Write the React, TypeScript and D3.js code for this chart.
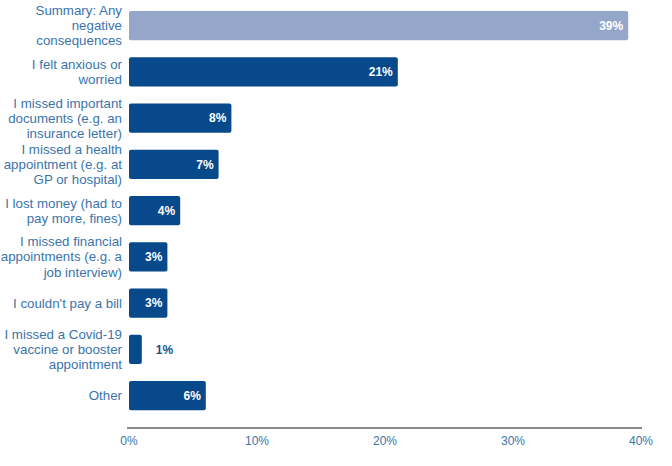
import React, { useEffect, useRef } from 'react'
import * as d3 from 'd3'

// categories (line breaks as in the original)
const categories = [
  'Summary: Any\nnegative\nconsequences',
  'I felt anxious or\nworried',
  'I missed important\ndocuments (e.g. an\ninsurance letter)',
  'I missed a health\nappointment (e.g. at\nGP or hospital)',
  'I lost money (had to\npay more, fines)',
  'I missed financial\nappointments (e.g. a\njob interview)',
  "I couldn't pay a bill",
  'I missed a Covid-19\nvaccine or booster\nappointment',
  'Other',
]
const values = [39, 21, 8, 7, 4, 3, 3, 1, 6]
const xTicks = [0, 10, 20, 30, 40]

const W = 672
const H = 466

const App = () => {
  const svgRef = useRef<SVGSVGElement>(null)

  useEffect(() => {
    const svg = d3.select(svgRef.current)
    svg.selectAll('*').remove()

    const x = d3.scaleLinear().domain([0, 40]).range([129, 641])
    const y = d3
      .scaleBand<number>()
      .domain(categories.map((c, i) => i))
      .range([1.75, 419.4])
      .paddingInner(0.37)
      .paddingOuter(0.2)

    const font = 'Arial, "Liberation Sans", sans-serif'

    // bars
    svg
      .selectAll('.bar')
      .data(values)
      .join('rect')
      .attr('class', 'bar')
      .attr('x', x(0))
      .attr('y', (v, i) => y(i)!)
      .attr('width', v => x(v) - x(0))
      .attr('height', y.bandwidth())
      .attr('rx', 2)
      .attr('fill', (v, i) => (i === 0 ? '#94a7cb' : '#07498a'))

    // value labels
    svg
      .selectAll('.val')
      .data(values)
      .join('text')
      .attr('class', 'val')
      .attr('x', v => (v < 2 ? x(v) + 14 : x(v) - 5))
      .attr('y', (v, i) => y(i)! + y.bandwidth() / 2)
      .attr('dy', '0.35em')
      .attr('text-anchor', v => (v < 2 ? 'start' : 'end'))
      .attr('font-family', font)
      .attr('font-size', 12)
      .attr('font-weight', 'bold')
      .attr('fill', v => (v < 2 ? '#1d4f8c' : '#ffffff'))
      .text(v => v + '%')

    // category labels
    const lineH = 15.2
    const labels = svg
      .selectAll('.cat')
      .data(categories)
      .join('text')
      .attr('class', 'cat')
      .attr('text-anchor', 'end')
      .attr('font-family', font)
      .attr('font-size', 13.3)
      .attr('fill', '#3a74ab')
    labels.each(function (c, i) {
      const lines = c.split('\n')
      const cy = y(i)! + y.bandwidth() / 2
      const top = cy - ((lines.length - 1) * lineH) / 2
      d3.select(this)
        .selectAll('tspan')
        .data(lines)
        .join('tspan')
        .attr('x', 122)
        .attr('y', (l, k) => top + k * lineH)
        .attr('dy', '0.35em')
        .text(l => l)
    })

    // x axis
    const axis = svg.append('g').attr('transform', 'translate(0,428)')
    axis
      .append('line')
      .attr('x1', 127)
      .attr('x2', 642)
      .attr('stroke', '#666')
      .attr('stroke-width', 1.3)
    axis
      .selectAll('.tick')
      .data(xTicks)
      .join('text')
      .attr('class', 'tick')
      .attr('x', t => x(t))
      .attr('y', 17)
      .attr('text-anchor', 'middle')
      .attr('font-family', font)
      .attr('font-size', 12)
      .attr('fill', '#3a74ab')
      .text(t => t + '%')
  }, [])

  return (
    <svg
      ref={svgRef}
      width={W}
      height={H}
      style={{ display: 'block', position: 'absolute', left: 0, top: 0 }}
    />
  )
}

export default App
